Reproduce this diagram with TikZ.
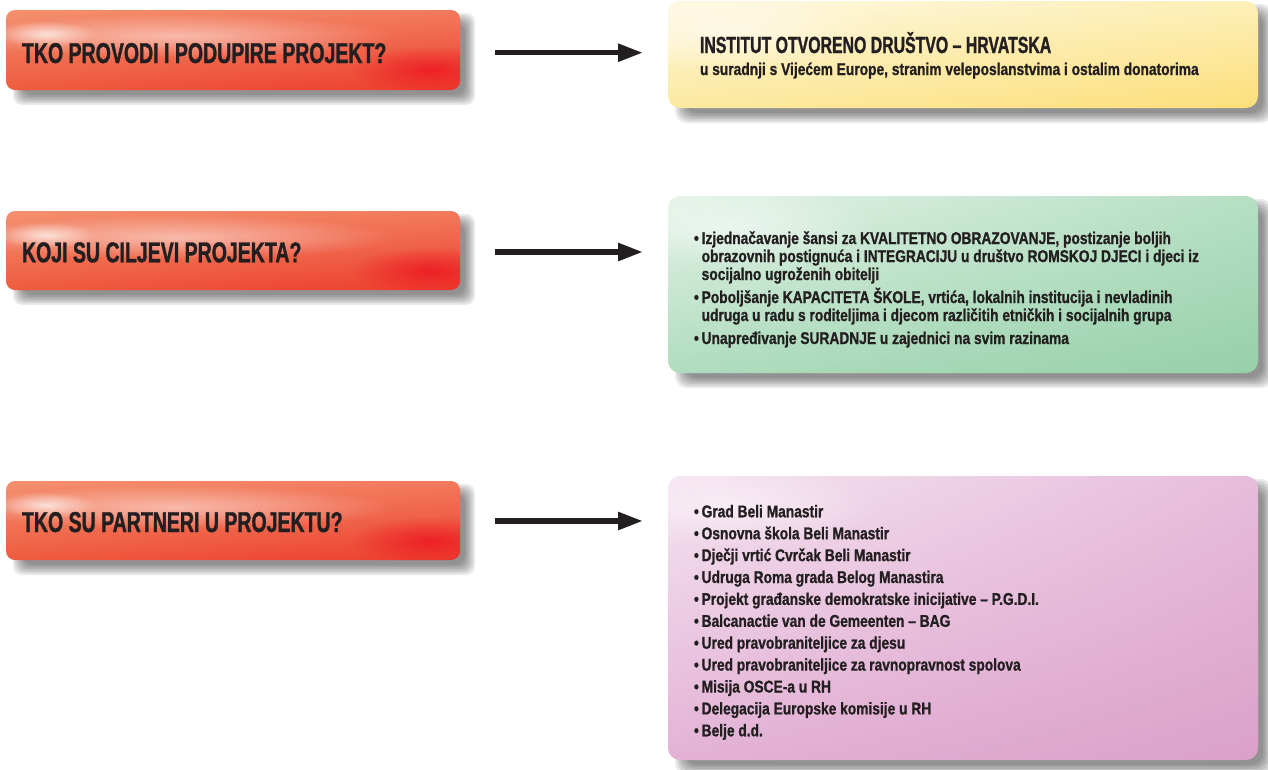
\documentclass[tikz,border=0pt]{standalone}
\usepackage{fontspec}
\setmainfont{Liberation Sans}
\newfontfamily\headfont{Liberation Sans}[FakeStretch=0.68, FakeBold=1.2]
\newfontfamily\bodyfont{Liberation Sans}[FakeStretch=0.81, FakeBold=1]
\usetikzlibrary{fadings,calc,arrows.meta,shadings}
\tikzfading[name=glowfade, inner color=transparent!0, outer color=transparent!100]
\definecolor{ink}{HTML}{231F20}
\definecolor{redUL}{HTML}{F4906F}
\definecolor{redUR}{HTML}{F27A5C}
\definecolor{redLL}{HTML}{EF5B3E}
\definecolor{redLR}{HTML}{EC3D2E}
\definecolor{redhot}{HTML}{ED1C24}
\definecolor{yelUL}{HTML}{FEF8E2}
\definecolor{yelUR}{HTML}{FDEFB8}
\definecolor{yelLL}{HTML}{FCE9A0}
\definecolor{yelLR}{HTML}{FCDF7C}
\definecolor{grnUL}{HTML}{E4F3E8}
\definecolor{grnUR}{HTML}{B6DFC4}
\definecolor{grnLL}{HTML}{B0DCBF}
\definecolor{grnLR}{HTML}{96D0A8}
\definecolor{purUL}{HTML}{F5E4F0}
\definecolor{purUR}{HTML}{E6BCDB}
\definecolor{purLL}{HTML}{E3B2D6}
\definecolor{purLR}{HTML}{DBA0CA}
\begin{document}
\begin{tikzpicture}[x=1pt, y=-1pt,
  txt/.style={text=ink, inner sep=0pt, outer sep=0pt, anchor=base west},
  head/.style={txt, font=\headfont\bfseries\fontsize{28.7}{30}\selectfont},
  ttl/.style={txt, font=\headfont\bfseries\fontsize{23.3}{25}\selectfont},
  body/.style={txt, font=\bodyfont\bfseries\fontsize{17}{18}\selectfont},
  redbox/.style={shade, upper left=redUL, upper right=redUR, lower left=redLL, lower right=redLR,
    rounded corners=9pt, minimum width=454pt, minimum height=#1, inner sep=0pt, outer sep=0pt},
  infobox/.style={shade, rounded corners=12pt, minimum width=590pt, inner sep=0pt, outer sep=0pt},
  arr/.style={draw=ink, line width=5.5pt, -{Triangle[length=25pt,width=17pt]}, shorten <=35pt, shorten >=25pt},
]
\useasboundingbox[fill=white] (0,0) rectangle (1268,769);

% shadows
\foreach \xa/\ya/\xb/\yb/\r in {6/10/460/90/9, 6/211/460/290/9, 6/481/460/560/9,
  668/1/1258/108/12, 668/196/1258/373/12, 668/476/1258/760/12}{
  \foreach \e in {-5,-3,-1,1,3,5}{
    \fill[black, opacity=0.085, rounded corners=\r pt]
      (\xa+12-\e, \ya+8-\e) rectangle (\xb+10+\e, \yb+10+\e);
  }
}

% left boxes
\node[redbox=80pt] (h1) at (233,50) {};
\node[redbox=79pt] (h2) at (233,250.5) {};
\node[redbox=79pt] (h3) at (233,520.5) {};

\foreach \b in {h1,h2,h3}{
  \begin{scope}
    \clip[rounded corners=9pt] (\b.north west) rectangle (\b.south east);
    \fill[white, path fading=glowfade, fill opacity=0.5] ($(\b.north west)+(170,26)$) ellipse [x radius=220, y radius=22];
    \fill[white, path fading=glowfade, fill opacity=0.7] ($(\b.north west)+(40,24)$) ellipse [x radius=50, y radius=13];
    \fill[redhot, path fading=glowfade, fill opacity=0.9] ($(\b.north west)+(424,60)$) ellipse [x radius=80, y radius=24];
  \end{scope}
}

% right boxes
\node[infobox, minimum height=107pt, upper left=yelUL, upper right=yelUR, lower left=yelLL, lower right=yelLR] (r1) at (963,54.5) {};
\node[infobox, minimum height=177pt, upper left=grnUL, upper right=grnUR, lower left=grnLL, lower right=grnLR] (r2) at (963,284.5) {};
\node[infobox, minimum height=284pt, upper left=purUL, upper right=purUR, lower left=purLL, lower right=purLR] (r3) at (963,618) {};

\foreach \b in {r1,r2,r3}{
  \begin{scope}
    \clip[rounded corners=12pt] (\b.north west) rectangle (\b.south east);
    \fill[white, path fading=glowfade, fill opacity=0.5] ($(\b.north west)+(60,30)$) ellipse [x radius=150, y radius=40];
  \end{scope}
}

% headings
\node[head] (t1) at (22,63) {TKO PROVODI I PODUPIRE PROJEKT?};
\node[head] (t2) at (22,262.3) {KOJI SU CILJEVI PROJEKTA?};
\node[head] (t3) at (22,532) {TKO SU PARTNERI U PROJEKTU?};

% arrows
\coordinate (a1) at ([yshift=-2.7pt]h1.east);
\coordinate (a2) at ([yshift=-1.5pt]h2.east);
\coordinate (a3) at ([yshift=-0.5pt]h3.east);
\draw[arr] (a1) -- (a1 -| r1.west);
\draw[arr] (a2) -- (a2 -| r2.west);
\draw[arr] (a3) -- (a3 -| r3.west);

% yellow text
\node[ttl] (y1) at (700,53) {INSTITUT OTVORENO DRUŠTVO – HRVATSKA};
\node[body] (y2) at (700,75) {u suradnji s Vijećem Europe, stranim veleposlanstvima i ostalim donatorima};

% green text
\node[body] (g1) at (694,244) {•\,Izjednačavanje šansi za KVALITETNO OBRAZOVANJE, postizanje boljih};
\node[body] (g2) at (694,262) {\phantom{•\,}obrazovnih postignuća i INTEGRACIJU u društvo ROMSKOJ DJECI i djeci iz};
\node[body] (g3) at (694,280) {\phantom{•\,}socijalno ugroženih obitelji};
\node[body] (g4) at (694,303) {•\,Poboljšanje KAPACITETA ŠKOLE, vrtića, lokalnih institucija i nevladinih};
\node[body] (g5) at (694,321) {\phantom{•\,}udruga u radu s roditeljima i djecom različitih etničkih i socijalnih grupa};
\node[body] (g6) at (694,344) {•\,Unapređivanje SURADNJE u zajednici na svim razinama};

% purple text
\foreach \t [count=\k from 0] in {Grad Beli Manastir, Osnovna škola Beli Manastir,
  Dječji vrtić Cvrčak Beli Manastir, Udruga Roma grada Belog Manastira,
  Projekt građanske demokratske inicijative – P.G.D.I., Balcanactie van de Gemeenten – BAG,
  Ured pravobraniteljice za djesu, Ured pravobraniteljice za ravnopravnost spolova,
  Misija OSCE-a u RH, Delegacija Europske komisije u RH, Belje d.d.}{
  \node[body] (p\k) at (694,{517.3+21.9*\k}) {•\,\t};
}
\end{tikzpicture}
\end{document}
